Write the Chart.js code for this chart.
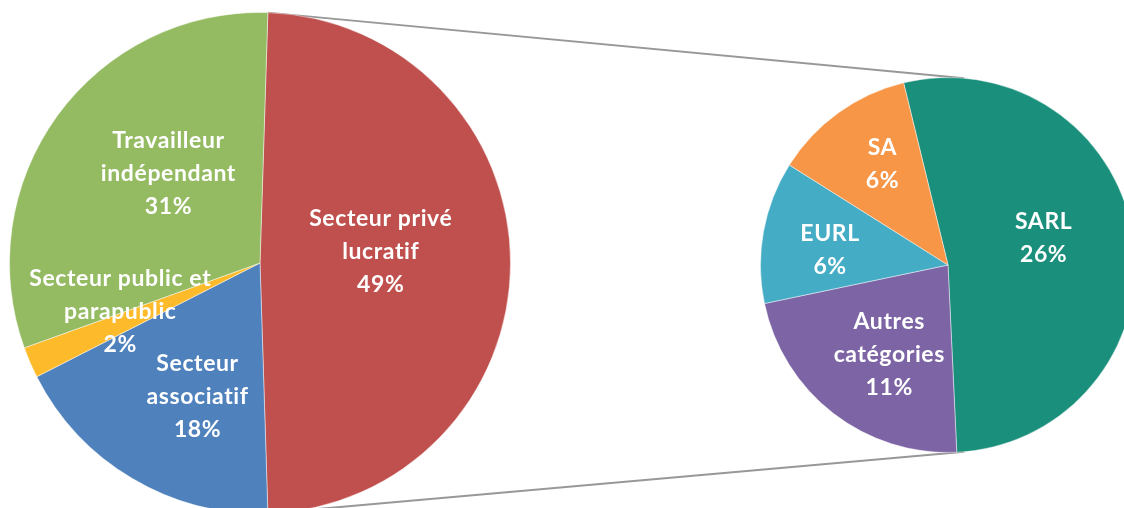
<!DOCTYPE html>
<html>
<head>
<meta charset="utf-8">
<script src="https://cdn.jsdelivr.net/npm/chart.js@4.4.1/dist/chart.umd.min.js"></script>
<style>
  html, body { margin: 0; padding: 0; width: 1124px; height: 508px; overflow: hidden; background: #fff; }
  #lines { position: absolute; left: 0; top: 0; z-index: 0; }
  .pie { position: absolute; z-index: 1; }
  #boxMain { left: 9px; top: 12px; width: 502px; height: 502px; }
  #boxSub { left: 760px; top: 77px; width: 376px; height: 376px; }
</style>
</head>
<body>
<canvas id="lines" width="1124" height="508"></canvas>
<div class="pie" id="boxMain"><canvas id="pieMain"></canvas></div>
<div class="pie" id="boxSub"><canvas id="pieSub"></canvas></div>
<script>
// premier camembert
const mainLabels = [['Secteur privé', 'lucratif'], ['Secteur', 'associatif'], ['Secteur public et', 'parapublic'], ['Travailleur', 'indépendant']];
const mainValues = [49, 18, 2, 31];
const mainColors = ['#C0504D', '#4F81BD', '#FDBB2C', '#94BB62'];

// détail du secteur privé lucratif
const subLabels = [['SARL'], ['Autres', 'catégories'], ['EURL'], ['SA']];
const subValues = [26, 11, 6, 6];
const subColors = ['#1A8F7C', '#7D65A5', '#44ACC5', '#F79647'];

// placement des étiquettes : [fraction du rayon, décalage d'angle en degrés]
const mainPlace = [[0.484, -5.2], [0.59, -5.6], [0.59, 4.4], [0.51, 8.2]];
const subPlace = [[0.53, -7.6], [0.57, -4.4], [0.634, -2.9], [0.643, 2.8]];

const FONT = '700 23px Lato';

const pieLabels = {
    id: 'pieLabels',
    afterDatasetsDraw(chart, args, opts) {
        const ctx = chart.ctx;
        const meta = chart.getDatasetMeta(0);
        const values = chart.data.datasets[0].data;
        ctx.save();
        ctx.font = FONT;
        ctx.letterSpacing = '0.6px';
        ctx.fillStyle = '#fff';
        ctx.textAlign = 'center';
        ctx.textBaseline = 'middle';
        meta.data.forEach((arc, i) => {
            const p = opts.place[i];
            const a = (arc.startAngle + arc.endAngle) / 2 + p[1] * Math.PI / 180;
            const r = arc.outerRadius * p[0];
            const x = arc.x + r * Math.cos(a), y = arc.y + r * Math.sin(a);
            const lines = chart.data.labels[i].concat([values[i] + '%']);
            const lh = 33;
            lines.forEach((t, k) => ctx.fillText(t, x, y + (k - (lines.length - 1) / 2) * lh));
        });
        ctx.restore();
    }
};

function makePie(id, labels, values, colors, rotation, place) {
    return new Chart(document.getElementById(id), {
        type: 'pie',
        data: { labels: labels, datasets: [{ data: values, backgroundColor: colors, borderColor: 'rgba(255,255,255,0.45)', borderWidth: 1 }] },
        options: {
            responsive: true, maintainAspectRatio: false, animation: false,
            rotation: rotation,
            layout: { padding: 0 },
            plugins: { legend: { display: false }, tooltip: { enabled: false }, pieLabels: { place: place } }
        },
        plugins: [pieLabels]
    });
}

const mainChart = makePie('pieMain', mainLabels, mainValues, mainColors, 90 - mainValues[0] * 1.8, mainPlace);
const subChart = makePie('pieSub', subLabels, subValues, subColors, -13.7, subPlace);

// lignes de liaison entre les deux camemberts
function drawLinks() {
    const c = document.getElementById('lines').getContext('2d');
    c.clearRect(0, 0, 1124, 508);
    const split = mainChart.getDatasetMeta(0).data[0];
    const sub = subChart.getDatasetMeta(0).data[0];
    const bm = document.getElementById('boxMain').getBoundingClientRect();
    const bs = document.getElementById('boxSub').getBoundingClientRect();
    const pt = (arc, box, ang) => [box.left + arc.x + arc.outerRadius * Math.cos(ang), box.top + arc.y + arc.outerRadius * Math.sin(ang)];
    const d = 5 * Math.PI / 180;
    const a1 = pt(split, bm, split.startAngle), a2 = pt(sub, bs, -Math.PI / 2 + d);
    const b1 = pt(split, bm, split.endAngle), b2 = pt(sub, bs, Math.PI / 2 - d);
    c.strokeStyle = '#989898';
    c.lineWidth = 2;
    c.beginPath();
    c.moveTo(a1[0], a1[1]); c.lineTo(a2[0], a2[1]);
    c.moveTo(b1[0], b1[1]); c.lineTo(b2[0], b2[1]);
    c.stroke();
}
drawLinks();
</script>
</body>
</html>
